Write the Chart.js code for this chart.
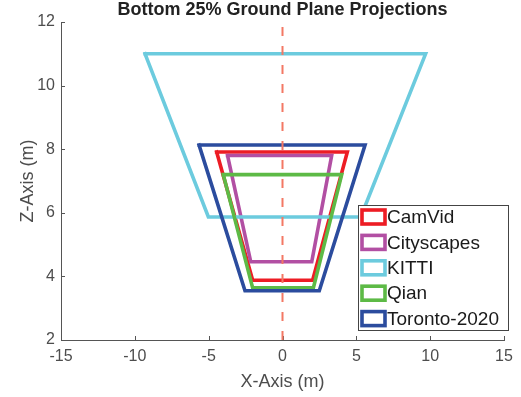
<!DOCTYPE html>
<html><head><meta charset="utf-8">
<script src="https://cdn.jsdelivr.net/npm/chart.js@4/dist/chart.umd.min.js"></script>
<style>html,body{margin:0;padding:0;background:#fff;}canvas{display:block}</style>
</head><body>
<canvas id="c" width="521" height="397"></canvas>
<script>
const chartTitle = 'Bottom 25% Ground Plane Projections';
const seriesNames = ['CamVid', 'Cityscapes', 'KITTI', 'Qian', 'Toronto-2020'];
const seriesColors = ['#ED1C24', '#B24FA3', '#6CCBDE', '#5DBA46', '#2B4C9E'];
const camvidX = [-4.46, 4.39, 2.04, -2.02];
const camvidZ = [7.91, 7.91, 3.88, 3.88];
const cityscapesX = [-3.72, 3.33, 1.98, -2.15];
const cityscapesZ = [7.80, 7.80, 4.46, 4.46];
const kittiX = [-9.31, 9.69, 5.30, -5.02];
const kittiZ = [11.0, 11.0, 5.87, 5.87];
const qianX = [-4.01, 4.01, 2.09, -2.02];
const qianZ = [7.20, 7.20, 3.64, 3.64];
const torontoX = [-5.65, 5.59, 2.49, -2.54];
const torontoZ = [8.13, 8.13, 3.55, 3.55];
const centerX = [0, 0];
const centerZ = [2, 12];
const xTicks = [-15, -10, -5, 0, 5, 10, 15];
const zTicks = [2, 4, 6, 8, 10, 12];

const FONT = "'Liberation Sans', Arial, Helvetica, sans-serif";
const seriesX = [camvidX, cityscapesX, kittiX, qianX, torontoX];
const seriesZ = [camvidZ, cityscapesZ, kittiZ, qianZ, torontoZ];

function closedPoly(xs, zs) {
  const pts = xs.map((x, i) => ({x: x, y: zs[i]}));
  pts.push({x: xs[0], y: zs[0]});
  return pts;
}

const datasets = seriesNames.map((name, i) => ({
  label: name,
  data: closedPoly(seriesX[i], seriesZ[i]),
  borderColor: seriesColors[i],
  backgroundColor: seriesColors[i],
  borderWidth: 3.6,
  borderJoinStyle: 'miter',
  borderCapStyle: 'square',
  showLine: true,
  pointRadius: 0,
  fill: false,
  tension: 0,
  order: seriesNames.length - i
}));
datasets.push({
  label: 'center',
  data: centerX.map((x, i) => ({x: x, y: centerZ[i]})),
  borderColor: '#F37864',
  borderWidth: 2,
  borderDash: [9, 10],
  showLine: true,
  pointRadius: 0,
  fill: false,
  order: 0
});

const inwardTicks = {
  id: 'inwardTicks',
  beforeDatasetsDraw(chart) {
    const ctx = chart.ctx, a = chart.chartArea, xs = chart.scales.x, ys = chart.scales.y;
    ctx.save();
    ctx.strokeStyle = '#555555';
    ctx.lineWidth = 1;
    xs.ticks.forEach(t => {
      const px = Math.round(xs.getPixelForValue(t.value)) + 0.5;
      ctx.beginPath(); ctx.moveTo(px, a.bottom); ctx.lineTo(px, a.bottom - 4); ctx.stroke();
    });
    ys.ticks.forEach(t => {
      const py = Math.round(ys.getPixelForValue(t.value)) + 0.5;
      ctx.beginPath(); ctx.moveTo(a.left, py); ctx.lineTo(a.left + 4, py); ctx.stroke();
    });
    ctx.restore();
  }
};

const areaTitle = {
  id: 'areaTitle',
  afterDraw(chart) {
    const ctx = chart.ctx, a = chart.chartArea;
    ctx.save();
    ctx.font = 'bold 18px ' + FONT;
    ctx.fillStyle = '#222222';
    ctx.textAlign = 'center';
    ctx.textBaseline = 'alphabetic';
    ctx.fillText(chartTitle, (a.left + a.right) / 2, a.top - 7);
    ctx.restore();
  }
};

const boxLegend = {
  id: 'boxLegend',
  afterDraw(chart) {
    const ctx = chart.ctx, a = chart.chartArea;
    const left = a.right - 146, top = a.top + 183, w = 150, h = 125;
    ctx.save();
    ctx.fillStyle = '#ffffff';
    ctx.fillRect(left, top, w, h);
    ctx.strokeStyle = '#444444';
    ctx.lineWidth = 1;
    ctx.strokeRect(left + 0.5, top + 0.5, w, h);
    ctx.font = '19px ' + FONT;
    ctx.textBaseline = 'middle';
    ctx.textAlign = 'left';
    seriesNames.forEach((name, i) => {
      const cy = top + 12 + i * 25.4;
      ctx.strokeStyle = seriesColors[i];
      ctx.lineWidth = 3.6;
      ctx.strokeRect(left + 4, cy - 7, 23, 14);
      ctx.fillStyle = '#1a1a1a';
      ctx.fillText(name, left + 29, cy + 1);
    });
    ctx.restore();
  }
};

new Chart(document.getElementById('c'), {
  type: 'scatter',
  data: {datasets: datasets},
  options: {
    responsive: false,
    devicePixelRatio: 1,
    animation: false,
    layout: {padding: {top: 22, right: 17, bottom: 0, left: 0}},
    plugins: {
      legend: {display: false},
      tooltip: {enabled: false},
      title: {display: false}
    },
    scales: {
      x: {
        type: 'linear',
        min: xTicks[0], max: xTicks[xTicks.length - 1],
        afterBuildTicks: s => { s.ticks = xTicks.map(v => ({value: v})); },
        afterFit: s => { s.height = 57; },
        grid: {display: true, drawOnChartArea: false, drawTicks: false},
        border: {display: true, color: '#555555', width: 1},
        ticks: {color: '#4d4d4d', font: {family: FONT, size: 16}, padding: 7, maxRotation: 0},
        title: {display: true, text: 'X-Axis (m)', color: '#4d4d4d', font: {family: FONT, size: 18}, padding: {top: 2, bottom: 4}}
      },
      y: {
        type: 'linear',
        min: zTicks[0], max: zTicks[zTicks.length - 1],
        afterBuildTicks: s => { s.ticks = zTicks.map(v => ({value: v})); },
        afterFit: s => { s.width = 61; },
        grid: {display: true, drawOnChartArea: false, drawTicks: false},
        border: {display: true, color: '#555555', width: 1},
        ticks: {color: '#4d4d4d', font: {family: FONT, size: 16}, padding: 6},
        title: {display: true, text: 'Z-Axis (m)', color: '#4d4d4d', font: {family: FONT, size: 18}, padding: {top: 17, bottom: 0}}
      }
    }
  },
  plugins: [inwardTicks, areaTitle, boxLegend]
});
</script>
</body></html>
